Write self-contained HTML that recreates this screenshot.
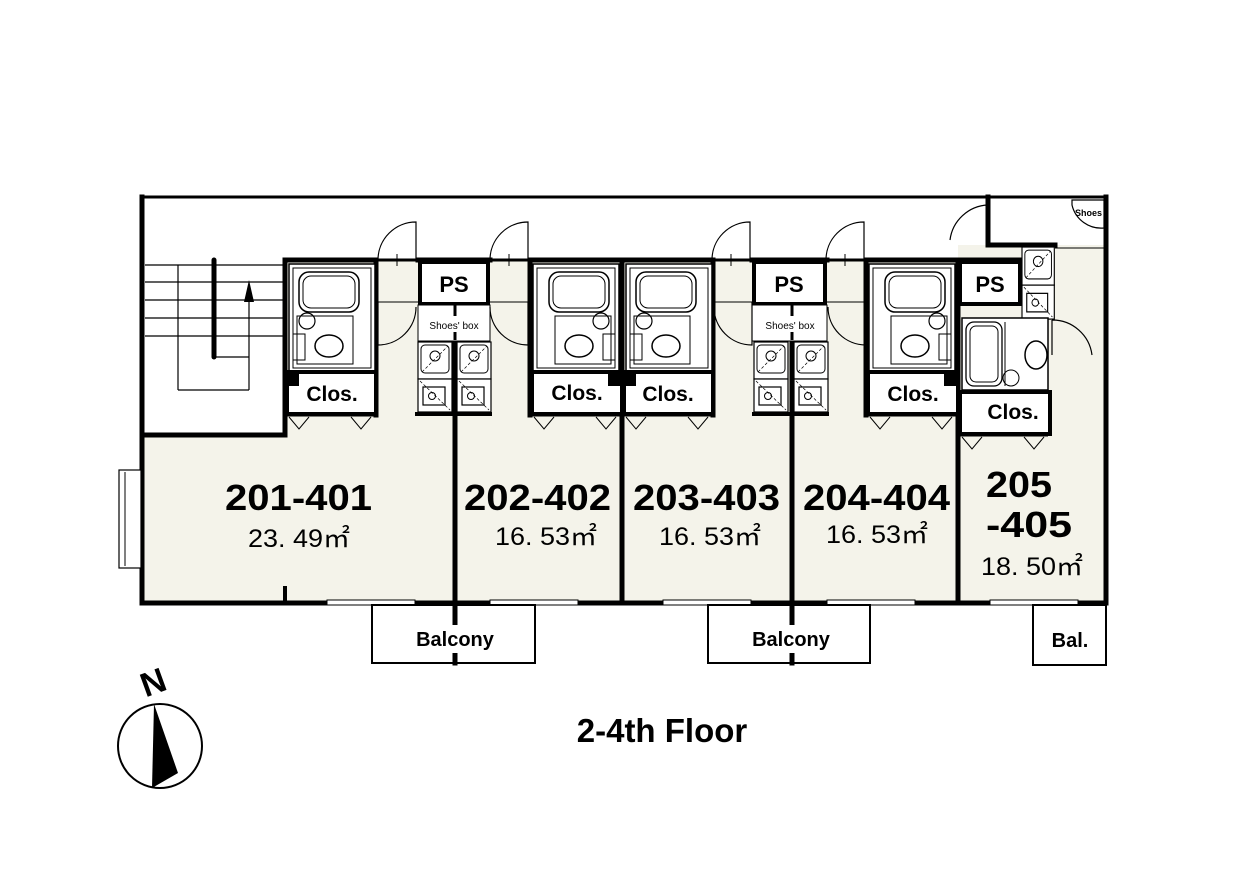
<!DOCTYPE html>
<html><head><meta charset="utf-8"><style>
html,body{margin:0;padding:0;background:#fff}
svg{display:block}
text{font-family:"Liberation Sans","Noto Sans CJK JP",sans-serif;fill:#000}
</style></head><body>
<svg width="1238" height="875" viewBox="0 0 1238 875" xmlns="http://www.w3.org/2000/svg">
<defs>
<g id="bath">
 <rect x="0" y="0" width="86" height="108" fill="#fff" stroke="#000" stroke-width="1.5"/>
 <rect x="4" y="4" width="78" height="100" fill="none" stroke="#000" stroke-width="1"/>
 <rect x="10" y="8" width="60" height="40" rx="10" fill="none" stroke="#000" stroke-width="1.5"/>
 <rect x="14" y="12" width="52" height="32" rx="8" fill="none" stroke="#000" stroke-width="1"/>
 <rect x="8" y="52" width="56" height="48" fill="none" stroke="#000" stroke-width="1"/>
 <ellipse cx="40" cy="82" rx="14" ry="11" fill="none" stroke="#000" stroke-width="1.5"/>
 <circle cx="18" cy="57" r="8" fill="none" stroke="#000" stroke-width="1.2"/>
 <rect x="4" y="70" width="12" height="26" fill="none" stroke="#000" stroke-width="1"/>
</g>
<g id="kit">
 <rect x="0" y="0" width="34" height="37" fill="#fff" stroke="#000" stroke-width="1.2"/>
 <rect x="3" y="3" width="28" height="28" rx="4" fill="none" stroke="#000" stroke-width="1"/>
 <circle cx="17" cy="14" r="5" fill="none" stroke="#000"/>
 <line x1="4" y1="30" x2="30" y2="4" stroke="#000" stroke-width="0.7" stroke-dasharray="3,2"/>
 <rect x="0" y="37" width="34" height="33" fill="#fff" stroke="#000" stroke-width="1.2"/>
 <rect x="5" y="45" width="22" height="18" fill="none" stroke="#000" stroke-width="1.2"/>
 <circle cx="14" cy="54" r="3.5" fill="none" stroke="#000"/>
 <line x1="2" y1="39" x2="32" y2="68" stroke="#000" stroke-width="0.7" stroke-dasharray="3,2"/>
</g>
<g id="door">
 <path d="M0,0 L0,-38 A38,38 0 0 0 -38,0" fill="none" stroke="#000" stroke-width="1.2"/>
 <line x1="-38" y1="0" x2="0" y2="0" stroke="#000" stroke-width="3"/>
 <line x1="-19" y1="-6" x2="-19" y2="6" stroke="#000"/>
</g>
<g id="fold">
 <line x1="0" y1="0" x2="88" y2="0" stroke="#000" stroke-width="3"/>
 <path d="M2,2 L12,14 L22,2 M64,2 L74,14 L84,2" fill="none" stroke="#000"/>
</g>
</defs>

<rect x="142" y="435" width="964" height="168" fill="#f4f3ea"/>
<rect x="285" y="260" width="673" height="175" fill="#f4f3ea"/>
<rect x="958" y="245" width="148" height="190" fill="#f4f3ea"/>

<g stroke="#000" fill="none" stroke-linecap="square">
 <line x1="142" y1="197" x2="1106" y2="197" stroke-width="3"/>
 <line x1="142" y1="197" x2="142" y2="603" stroke-width="5"/>
 <line x1="142" y1="603" x2="1106" y2="603" stroke-width="5"/>
 <line x1="1106" y1="197" x2="1106" y2="603" stroke-width="5"/>
 <line x1="142" y1="435" x2="285" y2="435" stroke-width="5"/>
 <line x1="285" y1="260" x2="285" y2="435" stroke-width="5"/>
 <line x1="285" y1="260" x2="376" y2="260" stroke-width="5"/>
 <line x1="376" y1="260" x2="376" y2="415" stroke-width="5"/>
 <line x1="418" y1="260" x2="490" y2="260" stroke-width="5"/>
 <line x1="530" y1="260" x2="713" y2="260" stroke-width="5"/>
 <line x1="752" y1="260" x2="827" y2="260" stroke-width="5"/>
 <line x1="866" y1="260" x2="1022" y2="260" stroke-width="5"/>
 <line x1="988" y1="197" x2="988" y2="245" stroke-width="5"/>
 <line x1="988" y1="245" x2="1055" y2="245" stroke-width="5"/>
 <line x1="455" y1="340" x2="455" y2="663" stroke-width="5"/>
 <line x1="622" y1="260" x2="622" y2="603" stroke-width="5"/>
 <line x1="792" y1="340" x2="792" y2="663" stroke-width="5"/>
 <line x1="958" y1="260" x2="958" y2="603" stroke-width="5"/>
 <line x1="530" y1="260" x2="530" y2="415" stroke-width="5"/>
 <line x1="713" y1="260" x2="713" y2="415" stroke-width="5"/>
 <line x1="866" y1="260" x2="866" y2="415" stroke-width="5"/>
 <line x1="285" y1="588" x2="285" y2="603" stroke-width="4"/>
</g>
<g stroke="#000" stroke-width="1">
 <line x1="376" y1="302" x2="418" y2="302"/><line x1="490" y1="302" x2="530" y2="302"/>
 <line x1="713" y1="302" x2="752" y2="302"/><line x1="827" y1="302" x2="866" y2="302"/>
 <line x1="1055" y1="248" x2="1106" y2="248"/>
</g>

<g stroke="#000" stroke-width="1.2" fill="none">
 <line x1="145" y1="265" x2="285" y2="265"/><line x1="145" y1="282" x2="285" y2="282"/>
 <line x1="145" y1="300" x2="285" y2="300"/><line x1="145" y1="318" x2="285" y2="318"/>
 <line x1="145" y1="336" x2="285" y2="336"/>
 <line x1="178" y1="265" x2="178" y2="390"/><line x1="178" y1="390" x2="249" y2="390"/>
 <line x1="249" y1="390" x2="249" y2="285"/><line x1="214" y1="357" x2="249" y2="357"/>
</g>
<line x1="214" y1="260" x2="214" y2="357" stroke="#000" stroke-width="5" stroke-linecap="round"/>
<polygon points="249,280 244,302 254,302" fill="#000"/>

<g stroke="#000" stroke-width="4" fill="#fff">
 <rect x="420" y="262" width="68" height="42"/>
 <rect x="754" y="262" width="71" height="42"/>
 <rect x="960" y="262" width="60" height="42"/>
</g>
<g font-size="22" font-weight="bold" text-anchor="middle">
 <text x="454" y="292">PS</text><text x="789" y="292">PS</text><text x="990" y="292">PS</text>
</g>
<rect x="418" y="305" width="72" height="36" fill="#fff" stroke="#000"/>
<rect x="752" y="305" width="75" height="36" fill="#fff" stroke="#000"/>
<line x1="455" y1="305" x2="455" y2="316" stroke="#000" stroke-width="3"/>
<line x1="455" y1="332" x2="455" y2="340" stroke="#000" stroke-width="3"/>
<line x1="792" y1="305" x2="792" y2="316" stroke="#000" stroke-width="3"/>
<line x1="792" y1="332" x2="792" y2="340" stroke="#000" stroke-width="3"/>
<g font-size="10" text-anchor="middle"><text x="454" y="329">Shoes' box</text><text x="790" y="329">Shoes' box</text></g>
<use href="#kit" x="418" y="342"/><use href="#kit" x="457" y="342"/>
<use href="#kit" x="754" y="342"/><use href="#kit" x="794" y="342"/>
<g transform="translate(1022,247) scale(0.95,1.03)"><use href="#kit" x="0" y="0"/></g>
<line x1="415" y1="414" x2="492" y2="414" stroke="#000" stroke-width="4"/>
<line x1="752" y1="414" x2="829" y2="414" stroke="#000" stroke-width="4"/>

<use href="#bath" x="289" y="264"/>
<use href="#bath" x="533" y="264" transform="translate(1152,0) scale(-1,1)" />
<use href="#bath" x="626" y="264"/>
<use href="#bath" x="869" y="264" transform="translate(1824,0) scale(-1,1)"/>
<g stroke="#000" fill="#fff">
 <rect x="962" y="318" width="86" height="72" stroke-width="1.5"/>
 <rect x="966" y="322" width="36" height="64" rx="8" fill="none" stroke-width="1.3"/>
 <rect x="970" y="326" width="28" height="56" rx="6" fill="none"/>
 <ellipse cx="1036" cy="355" rx="11" ry="14" fill="none" stroke-width="1.5"/>
 <circle cx="1011" cy="378" r="8" fill="none"/>
 <line x1="1005" y1="322" x2="1005" y2="386"/>
</g>
<g stroke="#000" stroke-width="4" fill="#fff">
 <rect x="287" y="372" width="89" height="42"/>
 <rect x="532" y="372" width="90" height="42"/>
 <rect x="624" y="372" width="89" height="42"/>
 <rect x="868" y="372" width="90" height="42"/>
 <rect x="960" y="392" width="90" height="42"/>
</g>
<rect x="285" y="370" width="14" height="16" fill="#000"/>
<rect x="608" y="370" width="14" height="16" fill="#000"/>
<rect x="622" y="370" width="14" height="16" fill="#000"/>
<rect x="944" y="370" width="14" height="16" fill="#000"/>
<g font-size="21" font-weight="bold" text-anchor="middle">
 <text x="332" y="401">Clos.</text><text x="577" y="400">Clos.</text><text x="668" y="401">Clos.</text>
 <text x="913" y="401">Clos.</text><text x="1013" y="419">Clos.</text>
</g>
<use href="#fold" x="287" y="415"/><use href="#fold" x="532" y="415"/>
<use href="#fold" x="624" y="415"/><use href="#fold" x="868" y="415"/>
<use href="#fold" x="960" y="435"/>

<use href="#door" x="416" y="260"/><use href="#door" x="528" y="260"/>
<use href="#door" x="750" y="260"/><use href="#door" x="864" y="260"/>
<g stroke="#000" fill="none" stroke-width="1.2">
 <path d="M378,302 L378,345 M378,345 A38,38 0 0 0 416,307" />
 <path d="M528,302 L528,345 A38,38 0 0 1 490,307"/>
 <path d="M752,302 L752,345 A38,38 0 0 1 714,307"/>
 <path d="M866,302 L866,345 A38,38 0 0 1 828,307"/>
 <path d="M988,205 L988,245 M988,205 A40,40 0 0 0 950,240"/>
 <path d="M1052,320 L1052,355 M1052,320 A40,40 0 0 1 1092,355"/>
 <path d="M1072,200 L1104,200 L1104,228 A30,30 0 0 1 1072,205 Z" fill="#fff"/>
</g>
<text x="1075" y="216" font-size="9" font-weight="bold">Shoes</text>

<rect x="119" y="470" width="22" height="98" fill="#fff" stroke="#000" stroke-width="1.2"/>
<line x1="125" y1="472" x2="125" y2="566" stroke="#000"/>

<g stroke="#000" stroke-width="1" fill="#fff">
 <rect x="327" y="600" width="88" height="5"/><rect x="490" y="600" width="88" height="5"/>
 <rect x="663" y="600" width="88" height="5"/><rect x="827" y="600" width="88" height="5"/>
 <rect x="990" y="600" width="88" height="5"/>
</g>
<g stroke="#000" stroke-width="2" fill="#fff">
 <rect x="372" y="605" width="163" height="58"/>
 <rect x="708" y="605" width="162" height="58"/>
 <rect x="1033" y="605" width="73" height="60"/>
</g>
<line x1="455" y1="603" x2="455" y2="663" stroke="#000" stroke-width="5"/>
<line x1="792" y1="603" x2="792" y2="663" stroke="#000" stroke-width="5"/>
<g font-size="20" font-weight="bold" text-anchor="middle">
 <rect x="405" y="625" width="100" height="28" fill="#fff"/>
 <rect x="740" y="625" width="100" height="28" fill="#fff"/>
 <text x="455" y="646">Balcony</text><text x="791" y="646">Balcony</text>
 <text x="1070" y="647">Bal.</text>
</g>

<g font-size="36" font-weight="bold" lengthAdjust="spacingAndGlyphs">
 <text x="225" y="510" textLength="147" lengthAdjust="spacingAndGlyphs">201-401</text>
 <text x="464" y="510" textLength="147" lengthAdjust="spacingAndGlyphs">202-402</text>
 <text x="633" y="510" textLength="147" lengthAdjust="spacingAndGlyphs">203-403</text>
 <text x="803" y="510" textLength="147" lengthAdjust="spacingAndGlyphs">204-404</text>
 <text x="986" y="497" textLength="66" lengthAdjust="spacingAndGlyphs">205</text>
 <text x="986" y="537" textLength="86" lengthAdjust="spacingAndGlyphs">-405</text>
</g>
<g font-size="25">
 <text x="248" y="547" textLength="102" lengthAdjust="spacingAndGlyphs">23. 49㎡</text>
 <text x="495" y="545" textLength="102" lengthAdjust="spacingAndGlyphs">16. 53㎡</text>
 <text x="659" y="545" textLength="102" lengthAdjust="spacingAndGlyphs">16. 53㎡</text>
 <text x="826" y="543" textLength="102" lengthAdjust="spacingAndGlyphs">16. 53㎡</text>
 <text x="981" y="575" textLength="102" lengthAdjust="spacingAndGlyphs">18. 50㎡</text>
</g>

<circle cx="160" cy="746" r="42" fill="#fff" stroke="#000" stroke-width="2"/>
<polygon points="154,704 152,788 178,773" fill="#000"/>
<text x="153" y="694" font-size="34" font-weight="bold" text-anchor="middle" transform="rotate(-20 153 682)">N</text>

<text x="662" y="742" font-size="33" font-weight="bold" text-anchor="middle">2-4th Floor</text>
</svg>
</body></html>
